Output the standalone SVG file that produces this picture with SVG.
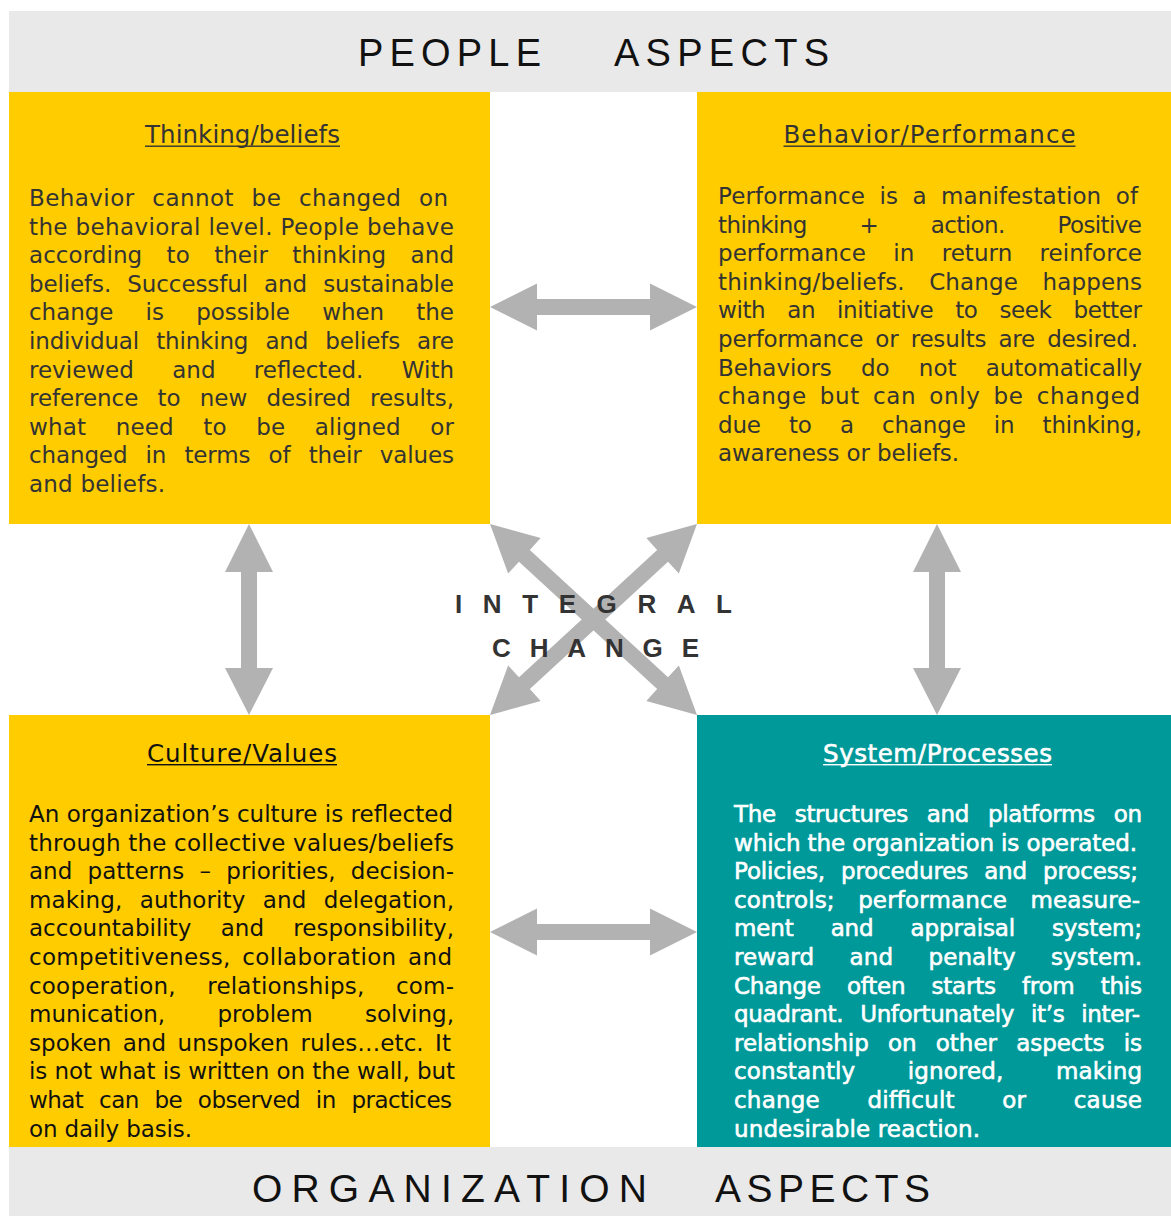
<svg xmlns="http://www.w3.org/2000/svg" width="1171" height="1216" viewBox="0 0 1171 1216">
<style>
.bg{fill:#e9e9e9}
.yel{fill:#ffcc00}
.teal{fill:#009999}
.arrow{fill:#b2b2b2}
.banner{font-family:"Liberation Sans",Arial,sans-serif;font-size:38px;fill:#111}
.banner2{font-family:"Liberation Sans Narrow","Liberation Sans",Arial,sans-serif;font-size:39px;fill:#111}
.center{font-family:"Liberation Sans",Arial,sans-serif;font-weight:bold;font-size:26px;fill:#333}
.title{font-family:"DejaVu Sans",sans-serif;font-size:24.5px;fill:#333}
.body{font-family:"DejaVu Sans",sans-serif;font-size:23px;fill:#333}
.dark{fill:#111}
.wt{fill:#fff;stroke:#fff;stroke-width:0.6}
.ul{fill:#333}
</style>

<g id="banner-people">
<rect class="bg" x="9" y="11" width="1162" height="81"/>
<text class="banner" x="358" y="66" textLength="183" lengthAdjust="spacing">PEOPLE</text>
<text class="banner" x="614" y="66" textLength="215" lengthAdjust="spacing">ASPECTS</text>
</g>

<g id="banner-organization">
<rect class="bg" x="9" y="1147" width="1162" height="69"/>
<text class="banner2" x="252" y="1201.5" textLength="395" lengthAdjust="spacing">ORGANIZATION</text>
<text class="banner2" x="715" y="1201.5" textLength="215" lengthAdjust="spacing">ASPECTS</text>
</g>

<g id="node-thinking">
<rect class="yel" x="9" y="92" width="481" height="432"/>
<text class="title" x="145" y="143" textLength="195" lengthAdjust="spacing">Thinking/beliefs</text>
<rect class="ul" x="145" y="145.5" width="195" height="1.4"/>
<g class="body">
<text x="29" y="206" textLength="419" lengthAdjust="spacing" word-spacing="10">Behavior cannot be changed on</text>
<text x="29" y="234.6" textLength="425" lengthAdjust="spacing">the behavioral level. People behave</text>
<text x="29" y="263.2" textLength="425" lengthAdjust="spacing" word-spacing="17">according to their thinking and</text>
<text x="29" y="291.8" textLength="425" lengthAdjust="spacing" word-spacing="9">beliefs. Successful and sustainable</text>
<text x="29" y="320.4" textLength="425" lengthAdjust="spacing" word-spacing="25">change is possible when the</text>
<text x="29" y="349" textLength="425" lengthAdjust="spacing" word-spacing="10">individual thinking and beliefs are</text>
<text x="29" y="377.6" textLength="425" lengthAdjust="spacing" word-spacing="31">reviewed and reflected. With</text>
<text x="29" y="406.2" textLength="425" lengthAdjust="spacing" word-spacing="12">reference to new desired results,</text>
<text x="29" y="434.8" textLength="425" lengthAdjust="spacing" word-spacing="22">what need to be aligned or</text>
<text x="29" y="463.4" textLength="425" lengthAdjust="spacing" word-spacing="11">changed in terms of their values</text>
<text x="29" y="492" textLength="136" lengthAdjust="spacing">and beliefs.</text>
</g>
</g>

<g id="node-behavior">
<rect class="yel" x="697" y="92" width="474" height="432"/>
<text class="title" x="783.5" y="143" textLength="292" lengthAdjust="spacing">Behavior/Performance</text>
<rect class="ul" x="783.5" y="145.5" width="292" height="1.4"/>
<g class="body">
<text x="718" y="204" textLength="420" lengthAdjust="spacing" word-spacing="7">Performance is a manifestation of</text>
<text x="718" y="232.6" textLength="424" lengthAdjust="spacing" word-spacing="46">thinking + action. Positive</text>
<text x="718" y="261.2" textLength="424" lengthAdjust="spacing" word-spacing="20">performance in return reinforce</text>
<text x="718" y="289.8" textLength="424" lengthAdjust="spacing" word-spacing="17">thinking/beliefs. Change happens</text>
<text x="718" y="318.4" textLength="424" lengthAdjust="spacing" word-spacing="15">with an initiative to seek better</text>
<text x="718" y="347" textLength="420" lengthAdjust="spacing" word-spacing="5">performance or results are desired.</text>
<text x="718" y="375.6" textLength="424" lengthAdjust="spacing" word-spacing="22">Behaviors do not automatically</text>
<text x="718" y="404.2" textLength="422" lengthAdjust="spacing" word-spacing="5">change but can only be changed</text>
<text x="718" y="432.8" textLength="424" lengthAdjust="spacing" word-spacing="21">due to a change in thinking,</text>
<text x="718" y="461.4" textLength="241" lengthAdjust="spacing">awareness or beliefs.</text>
</g>
</g>

<g id="node-culture">
<rect class="yel" x="9" y="715" width="481" height="432"/>
<text class="title dark" x="147" y="761.5" textLength="190" lengthAdjust="spacing">Culture/Values</text>
<rect class="ul" style="fill:#111" x="147" y="764" width="190" height="1.4"/>
<g class="body dark">
<text x="29" y="822" textLength="424" lengthAdjust="spacing">An organization’s culture is reflected</text>
<text x="29" y="850.6" textLength="425" lengthAdjust="spacing">through the collective values/beliefs</text>
<text x="29" y="879.2" textLength="425" lengthAdjust="spacing" word-spacing="8">and patterns – priorities, decision-</text>
<text x="29" y="907.8" textLength="425" lengthAdjust="spacing" word-spacing="10">making, authority and delegation,</text>
<text x="29" y="936.4" textLength="425" lengthAdjust="spacing" word-spacing="22">accountability and responsibility,</text>
<text x="29" y="965" textLength="423" lengthAdjust="spacing" word-spacing="4">competitiveness, collaboration and</text>
<text x="29" y="993.6" textLength="425" lengthAdjust="spacing" word-spacing="24">cooperation, relationships, com-</text>
<text x="29" y="1022.2" textLength="425" lengthAdjust="spacing" word-spacing="45">munication, problem solving,</text>
<text x="29" y="1050.8" textLength="422" lengthAdjust="spacing" word-spacing="4">spoken and unspoken rules…etc. It</text>
<text x="29" y="1079.4" textLength="426" lengthAdjust="spacing">is not what is written on the wall, but</text>
<text x="29" y="1108" textLength="423" lengthAdjust="spacing" word-spacing="9">what can be observed in practices</text>
<text x="29" y="1136.6" textLength="163" lengthAdjust="spacing">on daily basis.</text>
</g>
</g>

<g id="node-system">
<rect class="teal" x="697" y="715" width="474" height="432"/>
<text class="title wt" x="823" y="761.5" textLength="229" lengthAdjust="spacing">System/Processes</text>
<rect x="823" y="764" width="229" height="1.4" fill="#fff"/>
<g class="body wt">
<text x="734" y="822" textLength="408" lengthAdjust="spacing" word-spacing="12">The structures and platforms on</text>
<text x="734" y="850.6" textLength="403" lengthAdjust="spacing">which the organization is operated.</text>
<text x="734" y="879.2" textLength="404" lengthAdjust="spacing" word-spacing="9">Policies, procedures and process;</text>
<text x="734" y="907.8" textLength="406" lengthAdjust="spacing" word-spacing="16">controls; performance measure-</text>
<text x="734" y="936.4" textLength="408" lengthAdjust="spacing" word-spacing="30">ment and appraisal system;</text>
<text x="734" y="965" textLength="408" lengthAdjust="spacing" word-spacing="28">reward and penalty system.</text>
<text x="734" y="993.6" textLength="408" lengthAdjust="spacing" word-spacing="19">Change often starts from this</text>
<text x="734" y="1022.2" textLength="406" lengthAdjust="spacing" word-spacing="10">quadrant. Unfortunately it’s inter-</text>
<text x="734" y="1050.8" textLength="408" lengthAdjust="spacing" word-spacing="12">relationship on other aspects is</text>
<text x="734" y="1079.4" textLength="408" lengthAdjust="spacing" word-spacing="45">constantly ignored, making</text>
<text x="734" y="1108" textLength="408" lengthAdjust="spacing" word-spacing="40">change difficult or cause</text>
<text x="734" y="1136.6" textLength="246" lengthAdjust="spacing">undesirable reaction.</text>
</g>
</g>

<g id="connectors">
<polygon class="arrow" points="490,307 537,283.5 537,299 650,299 650,283.5 697,307 650,330.5 650,315 537,315 537,330.5"/>
<polygon class="arrow" points="490,932 537,908.5 537,924 650,924 650,908.5 697,932 650,955.5 650,940 537,940 537,955.5"/>
<polygon class="arrow" points="249,524 273,572 257,572 257,668 273,668 249,715 225,668 241,668 241,572 225,572"/>
<polygon class="arrow" points="937,524 961,572 945,572 945,668 961,668 937,715 913,668 929,668 929,572 913,572"/>
<polygon class="arrow" transform="translate(593.5,619.5) rotate(42.69)" points="-140.8,0 -94,-24 -94,-8 94,-8 94,-24 140.8,0 94,24 94,8 -94,8 -94,24"/>
<polygon class="arrow" transform="translate(593.5,619.5) rotate(-42.69)" points="-140.8,0 -94,-24 -94,-8 94,-8 94,-24 140.8,0 94,24 94,8 -94,8 -94,24"/>
</g>

<g id="center-label">
<text class="center" x="455" y="613" textLength="277" lengthAdjust="spacing">INTEGRAL</text>
<text class="center" x="492" y="657" textLength="207" lengthAdjust="spacing">CHANGE</text>
</g>
</svg>
